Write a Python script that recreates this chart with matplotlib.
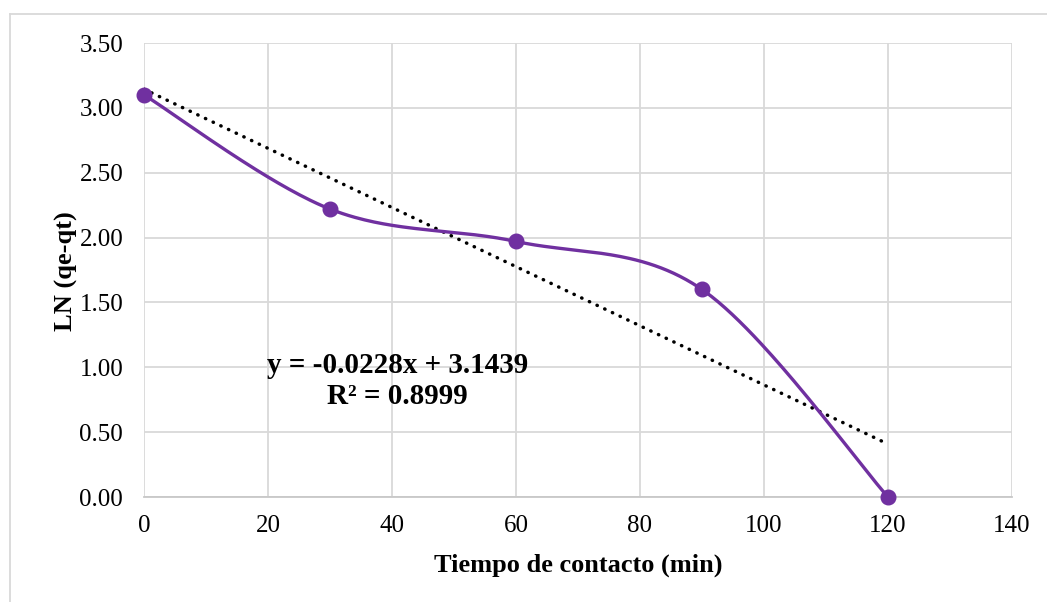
import numpy as np
import matplotlib
matplotlib.use("Agg")
import matplotlib.pyplot as plt
from matplotlib.lines import Line2D

# Data
tiempo = [0, 30, 60, 90, 120]
ln_qe_qt = [3.10, 2.22, 1.97, 1.60, 0.00]
slope = -0.0228
intercept = 3.1439
r2 = 0.8999
x_ticks = [0, 20, 40, 60, 80, 100, 120, 140]
y_ticks = [0.0, 0.5, 1.0, 1.5, 2.0, 2.5, 3.0, 3.5]

plt.rcParams['font.family'] = ['Liberation Serif', 'DejaVu Serif']

W, H = 1047, 602
fig = plt.figure(figsize=(W / 100, H / 100), dpi=100)
L, R, T, B = 144, 1012, 43, 497
ax = fig.add_axes([L / W, 1 - B / H, (R - L) / W, (B - T) / H])

xmin, xmax, ymin, ymax = 0, 140, 0, 3.5
ax.set_xlim(xmin, xmax)
ax.set_ylim(ymin, ymax)

# Smoothed line (Excel-like cardinal spline computed in screen space)
pw, ph = R - L, B - T
px = np.array(tiempo) / xmax * pw
py = np.array(ln_qe_qt) / ymax * ph
pts = np.column_stack([px, py])
ext = np.vstack([pts[0], pts, pts[-1]])
curve = []
t = np.linspace(0, 1, 60)
for i in range(1, len(ext) - 2):
    p0, p1, p2, p3 = ext[i - 1], ext[i], ext[i + 1], ext[i + 2]
    c1 = p1 + (p2 - p0) / 6
    c2 = p2 - (p3 - p1) / 6
    seg = ((1 - t) ** 3)[:, None] * p1 + (3 * (1 - t) ** 2 * t)[:, None] * c1 \
        + (3 * (1 - t) * t ** 2)[:, None] * c2 + (t ** 3)[:, None] * p2
    curve.append(seg)
curve = np.vstack(curve)
cx = curve[:, 0] / pw * xmax
cy = curve[:, 1] / ph * ymax

purple = '#7030A0'
ax.plot(cx, cy, color=purple, lw=2.4, zorder=3, solid_capstyle='round')
ax.plot(tiempo, ln_qe_qt, 'o', color=purple, ms=10.5, zorder=4, clip_on=False)

# Trendline
tx = np.array([tiempo[0], tiempo[-1]])
ax.plot(tx, slope * tx + intercept, color='black', lw=2.5,
        linestyle=(0, (0.1, 2.35)), dash_capstyle='round', zorder=2)

# Grid
ax.set_xticks(x_ticks)
ax.set_yticks(y_ticks)
ax.set_xticklabels([f"{v:g}" for v in x_ticks])
ax.set_yticklabels([f"{v:.2f}" for v in y_ticks])
ax.grid(True, color='#D9D9D9', lw=1.3, zorder=0)
ax.set_axisbelow(True)
for s in ['top', 'right', 'left']:
    ax.spines[s].set_visible(False)
ax.spines['bottom'].set_color('#C8C8C8')
ax.spines['bottom'].set_linewidth(1.3)
ax.tick_params(length=0, labelsize=18, colors='black')
ax.tick_params(axis='y', pad=15)
ax.tick_params(axis='x', pad=13)

def fx(p):
    return p / W

def fy(p):
    return 1 - p / H

fig.text(fx(578), fy(572), 'Tiempo de contacto (min)', fontsize=19,
         fontweight='bold', ha='center', va='baseline')
fig.text(fx(73), fy(271), 'LN (qe-qt)', fontsize=19, fontweight='bold',
         ha='center', va='baseline', rotation=90, rotation_mode='anchor')

fig.text(fx(397.5), fy(373), f"y = {slope}x + {intercept}",
         ha='center', va='baseline', fontsize=21, fontweight='bold')
fig.text(fx(397.5), fy(404), f"R² = {r2}",
         ha='center', va='baseline', fontsize=21, fontweight='bold')

# Chart border (only left and top edges visible in the image)
fig.add_artist(Line2D([fx(10), fx(10)], [fy(14), 0], color='#D9D9D9', lw=1.3))
fig.add_artist(Line2D([fx(10), 1], [fy(14), fy(14)], color='#D9D9D9', lw=1.3))

fig.savefig('out.png', dpi=100)
